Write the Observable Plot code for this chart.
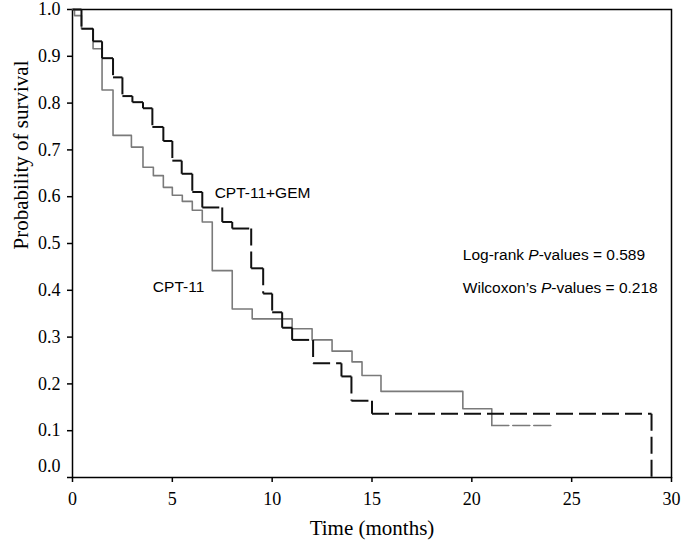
<!DOCTYPE html>
<html>
<head>
<meta charset="utf-8">
<script src="https://cdn.jsdelivr.net/npm/d3@7"></script>
<script src="https://cdn.jsdelivr.net/npm/@observablehq/plot@0.6"></script>
<style>
  html, body { margin: 0; padding: 0; background: #fff; }
  svg { display: block; }
</style>
</head>
<body>
<div id="chart"></div>
<script>
// CPT-11+GEM (black, dashed) Kaplan–Meier steps: time (months) and survival after the step
const gemTimes = [0, 0.45, 1.03, 1.48, 2.03, 2.5, 3.0, 3.53, 4.0, 4.55, 5.0, 5.47, 6.0, 6.5, 7.5, 8.0, 8.95, 9.55, 10.0, 10.5, 11.0, 12.05, 13.47, 13.97, 15.0, 29.0];
const gemSurv  = [1.0, 0.959, 0.932, 0.896, 0.855, 0.815, 0.802, 0.789, 0.749, 0.719, 0.677, 0.649, 0.61, 0.577, 0.546, 0.532, 0.447, 0.393, 0.353, 0.32, 0.294, 0.244, 0.216, 0.164, 0.136, 0.0];

// CPT-11 (grey) Kaplan–Meier steps
const cptTimes = [0, 0.1, 0.45, 1.03, 1.48, 2.03, 2.95, 3.53, 4.05, 4.55, 5.0, 5.5, 6.0, 6.5, 7.0, 8.0, 9.0, 11.0, 12.0, 13.0, 14.0, 14.5, 15.45, 19.55, 21.0];
const cptSurv  = [1.0, 0.987, 0.959, 0.916, 0.828, 0.731, 0.706, 0.663, 0.645, 0.62, 0.603, 0.59, 0.571, 0.546, 0.442, 0.36, 0.339, 0.318, 0.294, 0.27, 0.247, 0.218, 0.184, 0.147, 0.111];
const cptLastFollowUp = 24.0;

// axis ticks
const xTicks = [0, 5, 10, 15, 20, 25, 30];
const yTicks = [0.0, 0.1, 0.2, 0.3, 0.4, 0.5, 0.6, 0.7, 0.8, 0.9, 1.0];

// labels
const seriesLabels = ["CPT-11+GEM", "CPT-11"];
const statLabels = ["Log-rank P-values = 0.589", "Wilcoxon\u2019s P-values = 0.218"];
const xTitle = "Time (months)";
const yTitle = "Probability of survival";

// build tables
const gem = gemTimes.map((t, i) => ({t, s: gemSurv[i]}));
const cpt = cptTimes.map((t, i) => ({t, s: cptSurv[i]}));
const cptTail = [cpt[cpt.length - 1], {t: cptLastFollowUp, s: cptSurv[cptSurv.length - 1]}];

// each step segment drawn separately (dash pattern restarts per segment)
const gemSegs = [];
for (let i = 0; i < gem.length - 1; i++) {
  gemSegs.push({x1: gem[i].t, y1: gem[i].s, x2: gem[i + 1].t, y2: gem[i].s});
  gemSegs.push({x1: gem[i + 1].t, y1: gem[i].s, x2: gem[i + 1].t, y2: gem[i + 1].s});
}

const gemLabelPos = [{label: seriesLabels[0], t: 7.12, s: 0.608}];
const cptLabelPos = [{label: seriesLabels[1], t: 6.6, s: 0.408}];
const statPos = [
  {label: statLabels[0], t: 19.55, s: 0.475},
  {label: statLabels[1], t: 19.55, s: 0.404}
];

const fmt = d3.format(".1f");
const serif = "Liberation Serif, Times New Roman, serif";
const sans = "Liberation Sans, Arial, Helvetica, sans-serif";

const chart = Plot.plot({
  width: 683,
  height: 541,
  marginLeft: 72,
  marginRight: 12,
  marginTop: 9,
  marginBottom: 64,
  style: {fontFamily: serif, fontSize: "18px", color: "#000", background: "#fff"},
  x: {domain: [0, 30]},
  y: {domain: [0, 1]},
  marks: [
    Plot.frame({stroke: "#000", strokeWidth: 1.5}),
    Plot.axisX(xTicks, {tickSize: 5, tickPadding: 10, tickFormat: d => String(d), label: null, strokeWidth: 1.5, fontSize: 18, fontFamily: serif}),
    Plot.axisY(yTicks, {tickSize: 5, tickPadding: 7, tickFormat: v => v === 0 ? "" : fmt(v), label: null, strokeWidth: 1.5, fontSize: 18, fontFamily: serif}),
    Plot.axisY([0], {tickSize: 0, tickPadding: 12, dy: -11, tickFormat: fmt, label: null, fontSize: 18, fontFamily: serif}),
    Plot.text([xTitle], {frameAnchor: "bottom", dy: 51, lineAnchor: "middle", fontSize: 21, fontFamily: serif, fill: "#000"}),
    Plot.text([yTitle], {frameAnchor: "left", dx: -51, dy: 6, rotate: -90, lineAnchor: "middle", fontSize: 21, fontFamily: serif, fill: "#000"}),
    // CPT-11 grey solid step line
    Plot.line(cpt, {x: "t", y: "s", curve: "step-after", stroke: "#7a7a7a", strokeWidth: 1.6}),
    Plot.line(cptTail, {x: "t", y: "s", stroke: "#7a7a7a", strokeWidth: 1.6, strokeDasharray: "17,4"}),
    // CPT-11+GEM black dashed steps
    Plot.link(gemSegs, {x1: "x1", y1: "y1", x2: "x2", y2: "y2", stroke: "#111", strokeWidth: 2, strokeDasharray: "17,6", strokeLinecap: "butt"}),
    Plot.text(gemLabelPos, {x: "t", y: "s", text: "label", textAnchor: "start", lineAnchor: "middle", fontSize: 15.5, fontFamily: sans, fill: "#000"}),
    Plot.text(cptLabelPos, {x: "t", y: "s", text: "label", textAnchor: "end", lineAnchor: "middle", fontSize: 15.5, fontFamily: sans, fill: "#000"}),
    Plot.text(statPos, {x: "t", y: "s", text: "label", textAnchor: "start", lineAnchor: "middle", fontSize: 15.5, fontFamily: sans, fill: "#000"})
  ]
});

// italic P in the statistics labels
chart.querySelectorAll("text").forEach(el => {
  const s = el.textContent;
  if (s.includes("P-values")) {
    const [a, b] = s.split("P-values");
    while (el.firstChild) el.removeChild(el.firstChild);
    const ns = "http://www.w3.org/2000/svg";
    const t1 = document.createElementNS(ns, "tspan"); t1.textContent = a;
    const t2 = document.createElementNS(ns, "tspan"); t2.textContent = "P"; t2.setAttribute("font-style", "italic");
    const t3 = document.createElementNS(ns, "tspan"); t3.textContent = "-values" + b;
    el.append(t1, t2, t3);
  }
});

document.getElementById("chart").appendChild(chart);
</script>
</body>
</html>
